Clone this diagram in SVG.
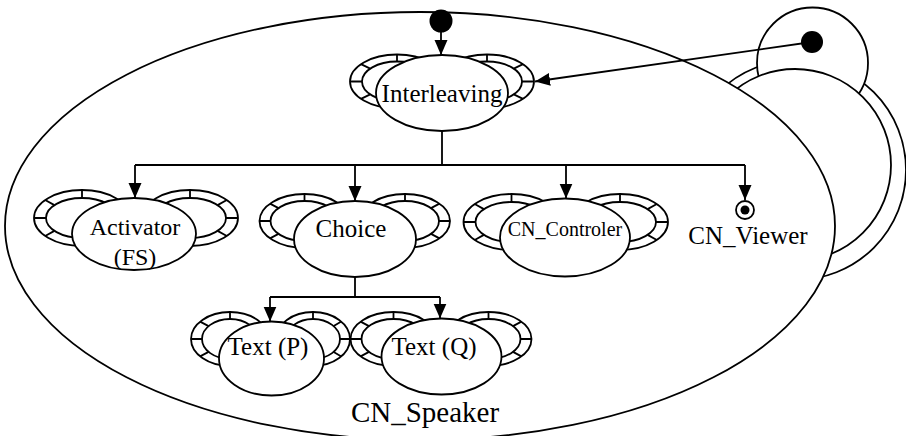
<svg xmlns="http://www.w3.org/2000/svg" width="906" height="436" viewBox="0 0 906 436">
<style>
.s{fill:#fff;stroke:#000;stroke-width:1.8}
.l{fill:none;stroke:#000;stroke-width:1.8}
.a{fill:none;stroke:#000;stroke-width:1.8;marker-end:url(#arr)}
.d{fill:#000;stroke:none}
text{font-family:"Liberation Serif","Times New Roman",serif;fill:#000;text-anchor:middle}
</style>
<defs>
<marker id="arr" markerUnits="userSpaceOnUse" markerWidth="15" markerHeight="14" refX="15" refY="7" orient="auto">
<path d="M0,0.5 L15,7 L0,13.5 Z" fill="#000"/>
</marker>
</defs>
<rect width="906" height="436" fill="#fff"/>

<g id="outer-state">
<circle class="s" cx="796" cy="170" r="110"/>
<circle class="s" cx="812.5" cy="63" r="55.5"/>
<circle class="s" cx="795" cy="165" r="96"/>
<circle class="d" cx="812" cy="42" r="11"/>
</g>

<g id="CN_Speaker">
<ellipse class="s" cx="420" cy="226" rx="415" ry="214"/>
<text x="425" y="422" font-size="29">CN_Speaker</text>
</g>

<g id="initial">
<circle class="d" cx="441" cy="21" r="11.5"/>
</g>

<g id="Interleaving">
<ellipse class="s" cx="397" cy="81.5" rx="47" ry="27"/><ellipse class="s" cx="397" cy="81.5" rx="35" ry="20"/>
<path class="l" d="M350,81.5H362M361,64.1L370.2,68.6M397,54.5V61.5M361,98.9L370.2,94.4"/>
<ellipse class="s" cx="487" cy="81.5" rx="47" ry="27"/><ellipse class="s" cx="487" cy="81.5" rx="35" ry="20"/>
<path class="l" d="M534,81.5H522M523,64.1L513.8,68.6M487,54.5V61.5M523,98.9L513.8,94.4"/>
<ellipse class="s" cx="442" cy="93" rx="66" ry="38"/>
<text x="442" y="102" font-size="25">Interleaving</text>
</g>

<g id="Activator">
<ellipse class="s" cx="82" cy="218" rx="48" ry="28"/><ellipse class="s" cx="82" cy="218" rx="36" ry="20"/>
<path class="l" d="M34,218H46M45.2,200L54.4,205.1M82,190V198M45.2,236L54.4,230.9"/>
<ellipse class="s" cx="190" cy="218" rx="48" ry="28"/><ellipse class="s" cx="190" cy="218" rx="36" ry="20"/>
<path class="l" d="M238,218H226M226.8,200L217.6,205.1M190,190V198M226.8,236L217.6,230.9"/>
<ellipse class="s" cx="134" cy="234" rx="62" ry="36"/>
<text x="135" y="235" font-size="24">Activator</text>
<text x="135" y="265" font-size="24">(FS)</text>
</g>

<g id="Choice">
<ellipse class="s" cx="304.5" cy="221" rx="45" ry="27"/><ellipse class="s" cx="304.5" cy="221" rx="34" ry="20"/>
<path class="l" d="M259.5,221H270.5M270,203.6L278.5,208.1M304.5,194V201M270,238.4L278.5,233.9"/>
<ellipse class="s" cx="405" cy="221" rx="45" ry="27"/><ellipse class="s" cx="405" cy="221" rx="34" ry="20"/>
<path class="l" d="M450,221H439M439.5,203.6L431,208.1M405,194V201M439.5,238.4L431,233.9"/>
<ellipse class="s" cx="355" cy="239" rx="61" ry="38"/>
<text x="351" y="237" font-size="25">Choice</text>
</g>

<g id="CN_Controler">
<ellipse class="s" cx="511.5" cy="222" rx="48" ry="28"/><ellipse class="s" cx="511.5" cy="222" rx="36" ry="20"/>
<path class="l" d="M463.5,222H475.5M474.7,204L483.9,209.1M511.5,194V202M474.7,240L483.9,234.9"/>
<ellipse class="s" cx="620" cy="222" rx="48" ry="28"/><ellipse class="s" cx="620" cy="222" rx="36" ry="20"/>
<path class="l" d="M668,222H656M656.8,204L647.6,209.1M620,194V202M656.8,240L647.6,234.9"/>
<ellipse class="s" cx="565" cy="237.5" rx="65" ry="39"/>
<text x="565" y="236" font-size="20">CN_Controler</text>
</g>

<g id="CN_Viewer">
<circle class="s" cx="745" cy="210" r="9"/>
<circle class="d" cx="745" cy="210" r="4.5"/>
<text x="748" y="244" font-size="25">CN_Viewer</text>
</g>

<g id="TextP">
<ellipse class="s" cx="230" cy="339" rx="39" ry="27"/><ellipse class="s" cx="230" cy="339" rx="28" ry="20"/>
<path class="l" d="M191,339H202M200.1,321.6L208.6,326.1M230,312V319M200.1,356.4L208.6,351.9"/>
<ellipse class="s" cx="313" cy="339" rx="37" ry="27"/><ellipse class="s" cx="313" cy="339" rx="27" ry="20"/>
<path class="l" d="M350,339H340M341.3,321.6L333.7,326.1M313,312V319M341.3,356.4L333.7,351.9"/>
<ellipse class="s" cx="271.5" cy="358.5" rx="52.5" ry="37"/>
<text x="268" y="355" font-size="25">Text (P)</text>
</g>

<g id="TextQ">
<ellipse class="s" cx="393.5" cy="339" rx="43" ry="27"/><ellipse class="s" cx="393.5" cy="339" rx="32" ry="20"/>
<path class="l" d="M350.5,339H361.5M360.6,321.6L369,326.1M393.5,312V319M360.6,356.4L369,351.9"/>
<ellipse class="s" cx="488.5" cy="339" rx="43" ry="27"/><ellipse class="s" cx="488.5" cy="339" rx="32" ry="20"/>
<path class="l" d="M531.5,339H520.5M521.4,321.6L513,326.1M488.5,312V319M521.4,356.4L513,351.9"/>
<ellipse class="s" cx="441.5" cy="356.5" rx="60" ry="38"/>
<text x="434" y="355" font-size="25">Text (Q)</text>
</g>

<g id="connectors">
<path class="a" d="M441,32V55"/>
<path class="l" d="M442,131V165M135,165H745"/>
<path class="a" d="M135,165V198"/>
<path class="a" d="M355,165V201"/>
<path class="a" d="M566,165V198.5"/>
<path class="a" d="M745,165V200"/>
<path class="l" d="M355,277V297M270,297H440"/>
<path class="a" d="M270,297V321.5"/>
<path class="a" d="M440,297V318.5"/>
<path class="a" d="M812,42L535,81.5"/>
</g>
</svg>
